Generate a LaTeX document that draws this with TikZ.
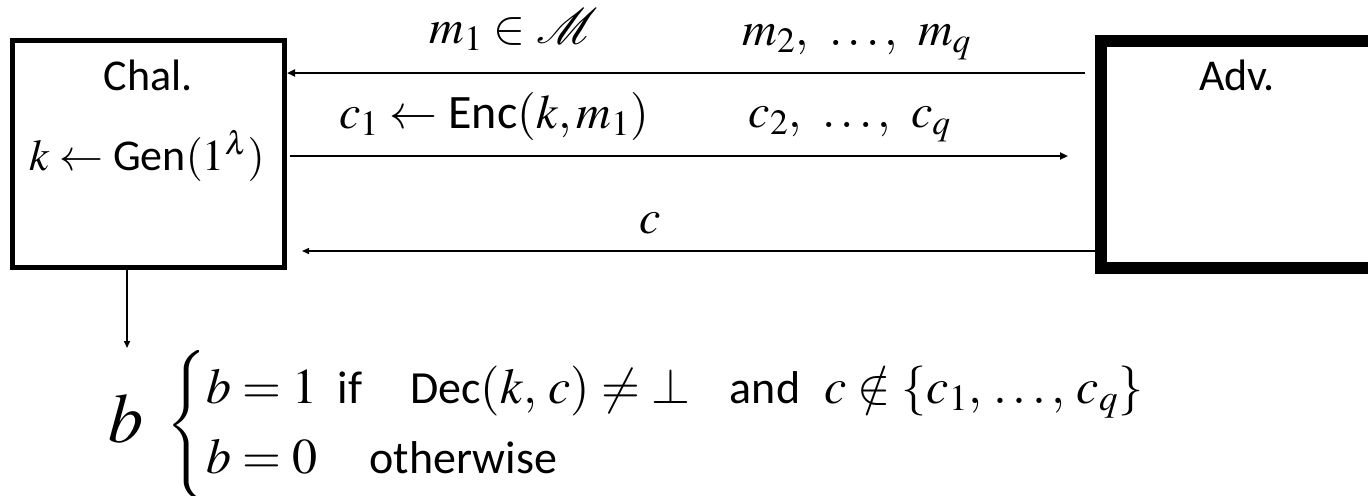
\documentclass[tikz,border=0pt]{standalone}
\usepackage{amsmath}
\usepackage{mathptmx}
\usepackage{mathrsfs}
\usepackage[no-math]{fontspec}
\setsansfont{Carlito}
\usetikzlibrary{arrows.meta, positioning}
\newcommand\algname[1]{\text{\fontsize{23}{27}\selectfont\sffamily #1}}
\tikzset{
  %% -- the two parties of the game --
  game/party/.style={draw, rectangle, inner sep=0pt, minimum height=113.5pt},
  game/chal/.style={game/party, line width=2.5pt, minimum width=136pt},
  game/adv/.style={game/party, line width=6pt, minimum width=136.5pt},
  %% -- names inside the boxes --
  game/name/.style={anchor=base, inner sep=0pt, font=\sffamily\fontsize{22}{26}\selectfont},
  %% -- math labels --
  game/lbl/.style={anchor=base, inner sep=0pt, font=\fontsize{24}{29}\selectfont},
  %% -- messages --
  game/msg/.style={-{Triangle[length=4pt,width=3.5pt]}, line width=1pt},
  game/thin/.style={-{Triangle[length=3.5pt,width=3pt]}, line width=0.7pt},
}

\begin{document}
\begin{tikzpicture}[x=0.5pt, y=-0.5pt]
\useasboundingbox (0,0) rectangle (1368,495);
\clip (0,0) rectangle (1368,495);

%% Parties
\node[game/chal] (chal) at (148.5,154) {};
\node[game/adv]  (adv)  at (1237.5,154.5) {};
\node[game/name] (chalname) at (148,90) {Chal.};
\node[game/lbl, font=\fontsize{22}{26}\selectfont] (keygen) at (147,170)
  {$k \leftarrow \textsf{Gen}(1^{\lambda})$};
\node[game/name] (advname)  at (1237,90) {Adv.};

%% Rows of the messages
\coordinate (row1) at (0,73);
\coordinate (row2) at (0,156);
\coordinate (row3) at (0,251);
\coordinate (bout) at (127,348);

%% Queries and answers
\draw[game/msg, shorten <=5pt] (adv.west |- row1) -- (chal.east |- row1);
\draw[game/msg, shorten <=1.5pt, shorten >=13.5pt] (chal.east |- row2) -- (adv.west |- row2);
\draw[game/thin, shorten >=7.5pt] (adv.west |- row3) -- (chal.east |- row3);
\draw[game/thin] (chal.south -| bout) -- (bout);

\node[game/lbl] (qfirst) at (514,43)  {$m_1 \in \mathscr{M}$};
\node[game/lbl] (qrest)  at (857,45)  {$m_2,\ \ldots,\ m_q$};
\node[game/lbl] (afirst) at (494,128) {$c_1 \leftarrow \textsf{Enc}(k, m_1)$};
\node[game/lbl] (arest)  at (850,127) {$c_2,\ \ldots,\ c_q$};
\node[game/lbl] (forge)  at (650,233) {$c$};

%% Output bit
\node[anchor=base, inner sep=0pt, font=\fontsize{35}{40}\selectfont] (bit) at (126,442) {$b$};
\node[game/lbl, anchor=west, font=\fontsize{25}{30}\selectfont] (rule) at (166,426)
  {$\left\{\begin{array}{@{}l}
    b = 1 \hspace{10pt}\algname{if}\hspace{24pt}\algname{Dec}(k,\, c) \neq \mathord{\perp}
      \hspace{20pt}\algname{and}\hspace{12pt} c \notin \{c_1,\,\ldots,\,c_q\} \\[5pt]
    b = 0 \hspace{26pt}\algname{otherwise}
  \end{array}\right.$};
\end{tikzpicture}
\end{document}
